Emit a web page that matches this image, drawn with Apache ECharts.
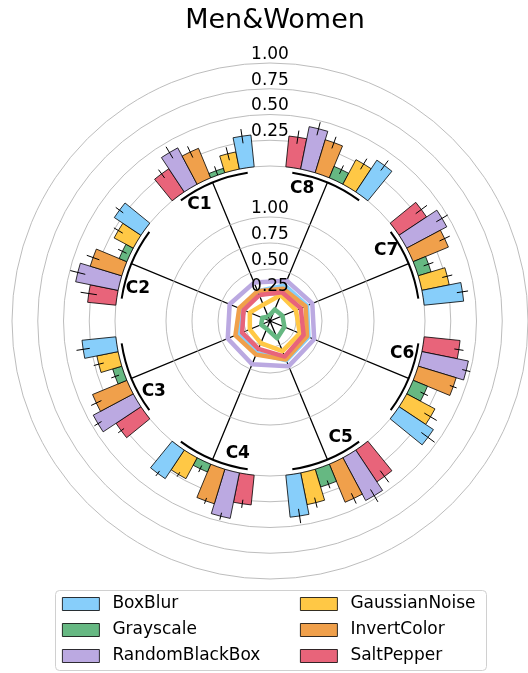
<!DOCTYPE html>
<html>
<head>
<meta charset="utf-8">
<script src="https://cdn.jsdelivr.net/npm/echarts@6/dist/echarts.min.js"></script>
<style>html,body{margin:0;padding:0;background:#fff}#c{width:528px;height:673px}</style>
</head>
<body>
<div id="c"></div>
<script>
const categories = ['C1','C2','C3','C4','C5','C6','C7','C8'];
const seriesNames = ['BoxBlur','GaussianNoise','Grayscale','InvertColor','RandomBlackBox','SaltPepper'];
const colors = ['#87CEFA','#FFC845','#66B882','#F0A04B','#BBA9E1','#E8647A'];
const tickValues = [0.25, 0.5, 0.75, 1.0];

const boxBlur        = [0.31, 0.31, 0.33, 0.333, 0.41, 0.40, 0.385, 0.37];
const gaussianNoise  = [0.17, 0.21, 0.21, 0.23, 0.314, 0.31, 0.27, 0.27];
const grayscale      = [0.045, 0.08, 0.092, 0.082, 0.18, 0.15, 0.13, 0.12];
const invertColor    = [0.31, 0.32, 0.36, 0.35, 0.40, 0.385, 0.37, 0.335];
const randomBlackBox = [0.40, 0.42, 0.44, 0.45, 0.47, 0.46, 0.44, 0.42];
const saltPepper     = [0.27, 0.275, 0.29, 0.29, 0.37, 0.35, 0.32, 0.30];

const boxBlurErr        = [0.07, 0.045, 0.065, 0.03, 0.07, 0.08, 0.055, 0.06];
const gaussianNoiseErr  = [0.065, 0.05, 0.05, 0.025, 0.05, 0.07, 0.05, 0.06];
const grayscaleErr      = [0.045, 0.045, 0.04, 0.035, 0.04, 0.04, 0.05, 0.045];
const invertColorErr    = [0.06, 0.065, 0.055, 0.03, 0.055, 0.035, 0.055, 0.06];
const randomBlackBoxErr = [0.065, 0.075, 0.04, 0.035, 0.07, 0.04, 0.065, 0.065];
const saltPepperErr     = [0.05, 0.08, 0.035, 0.04, 0.07, 0.045, 0.068, 0.065];

const groupArc = [1, 1, 1, 1, 1, 1, 1, 1];

const means = [boxBlur, gaussianNoise, grayscale, invertColor, randomBlackBox, saltPepper];
const errs = [boxBlurErr, gaussianNoiseErr, grayscaleErr, invertColorErr, randomBlackBoxErr, saltPepperErr];

const FONT = 'DejaVu Sans';
const CENTER = [270, 321];
const CAT_GAP = 0.26;
const barAngle = 45 * (1 - CAT_GAP) / seriesNames.length;

const chart = echarts.init(document.getElementById('c'), null, {renderer: 'canvas'});

const hiddenAngle = (start, data) => ({
  type: 'category', data: data, startAngle: start, clockwise: false, show: true,
  axisLine: {show: false}, axisTick: {show: false}, axisLabel: {show: false}, splitLine: {show: false}
});

const fmt = v => (v === 0 ? '' : v.toFixed(2));
const radLabel = {show: true, align: 'center', verticalAlign: 'bottom', margin: 0, fontFamily: FONT, fontSize: 17, color: '#000', formatter: fmt};

// ECharts lays the first bar series at the far (counter-clockwise) end of each band,
// so the bar series are added in reverse to keep BoxBlur on the clockwise side.
const barSeries = seriesNames.map((n, s) => ({
  type: 'bar', name: n, coordinateSystem: 'polar', polarIndex: 0,
  data: means[s], barGap: '0%', barCategoryGap: (CAT_GAP * 100) + '%',
  itemStyle: {color: colors[s], borderColor: '#000', borderWidth: 0.8},
  z: 2
})).reverse();

const errData = [];
seriesNames.forEach((n, s) => {
  categories.forEach((c, i) => errData.push([means[s][i], i, errs[s][i], s]));
});

function rot(p, cx, cy, deg) {
  const t = deg * Math.PI / 180;
  const dx = p[0] - cx, dy = p[1] - cy;
  return [cx + dx * Math.cos(t) + dy * Math.sin(t), cy - dx * Math.sin(t) + dy * Math.cos(t)];
}

const errSeries = {
  type: 'custom', coordinateSystem: 'polar', polarIndex: 0, z: 5, silent: true,
  data: errData,
  renderItem: function (params, api) {
    const m = api.value(0), ci = api.value(1), e = api.value(2), s = api.value(3);
    const cs = params.coordSys;
    const off = (s - (seriesNames.length - 1) / 2) * barAngle;
    const a = rot(api.coord([m - e, ci]), cs.cx, cs.cy, off);
    const b = rot(api.coord([m + e, ci]), cs.cx, cs.cy, off);
    return {type: 'line', shape: {x1: a[0], y1: a[1], x2: b[0], y2: b[1]}, style: {stroke: '#000', lineWidth: 1}};
  }
};

const radarSeries = seriesNames.map((n, s) => ({
  type: 'radar', radarIndex: 0, name: n, symbol: 'none', z: 3,
  data: [{value: means[s], name: n}],
  lineStyle: {color: colors[s], width: 4.5, opacity: 1},
  itemStyle: {color: colors[s]}
}));

// Category names are drawn by a custom series placed through the label polar's scales.
const catLabelSeries = {
  type: 'custom', name: 'catLabels', coordinateSystem: 'polar', polarIndex: 4, z: 10, silent: true,
  data: categories.map((c, i) => [1, i]),
  renderItem: function (params, api) {
    const p = api.coord([api.value(0), api.value(1)]);
    return {type: 'text', x: p[0], y: p[1],
      style: {text: categories[params.dataIndex], fill: '#000', align: 'center', verticalAlign: 'middle',
              font: 'bold 17px "DejaVu Sans"'}};
  }
};

const option = {
  backgroundColor: '#fff',
  animation: false,
  title: {
    text: 'Men&Women', left: 270, textAlign: 'center', top: 2,
    textStyle: {fontFamily: FONT, fontSize: 27, fontWeight: 'normal', color: '#000'}
  },
  polar: [
    {center: CENTER, radius: [155, 258]},
    {center: CENTER, radius: [0, 104]},
    {center: CENTER, radius: [0, 150]},
    {center: CENTER, radius: [149, 151]},
    {center: CENTER, radius: [0, 136]},
    {center: CENTER, radius: [0, 104]}
  ],
  angleAxis: [
    hiddenAngle(90, categories),
    {type: 'value', min: 0, max: 360, startAngle: 90, polarIndex: 1, show: false},
    Object.assign(hiddenAngle(112.5, categories), {polarIndex: 2, splitLine: {show: true, interval: 0, lineStyle: {color: '#000', width: 1.3}}}),
    Object.assign(hiddenAngle(90, categories), {polarIndex: 3, show: false}),
    Object.assign(hiddenAngle(98.8, categories), {polarIndex: 4, show: false}),
    {type: 'value', min: 0, max: 360, startAngle: 90, polarIndex: 5, show: false}
  ],
  radiusAxis: [
    {type: 'value', polarIndex: 0, min: 0, max: 1, interval: 0.25,
     axisLine: {show: false}, axisTick: {show: false}, axisLabel: radLabel,
     splitLine: {show: true, lineStyle: {color: '#bdbdbd', width: 1}}, z: 1},
    {type: 'value', polarIndex: 1, min: 0, max: 1, interval: 0.25,
     axisLine: {show: false}, axisTick: {show: false}, axisLabel: {show: false},
     splitLine: {show: true, lineStyle: {color: '#bdbdbd', width: 1}}, z: 1},
    {type: 'value', polarIndex: 2, min: 0, max: 1, show: false},
    {type: 'value', polarIndex: 3, min: 0, max: 1, show: false},
    {type: 'value', polarIndex: 4, min: 0, max: 1, show: false},
    {type: 'value', polarIndex: 5, min: 0, max: 1, interval: 0.25, z: 20,
     axisLine: {show: false}, axisTick: {show: false}, axisLabel: radLabel, splitLine: {show: false}}
  ],
  radar: {
    center: CENTER, radius: 104, startAngle: 112.5, shape: 'polygon', splitNumber: 4,
    indicator: categories.map(c => ({name: c, min: 0, max: 1})),
    axisName: {show: false}, splitLine: {show: false}, splitArea: {show: false},
    axisLine: {show: false}, axisTick: {show: false}, axisLabel: {show: false}
  },
  legend: [
    {data: ['BoxBlur', 'Grayscale', 'RandomBlackBox'], left: 62, top: 594},
    {data: ['GaussianNoise', 'InvertColor', 'SaltPepper'], left: 300, top: 594}
  ].map(l => Object.assign(l, {
    orient: 'vertical', padding: 0, itemWidth: 37, itemHeight: 13, itemGap: 6, icon: 'rect',
    selectedMode: false, z: 10,
    itemStyle: {borderColor: '#000', borderWidth: 0.8},
    textStyle: {fontFamily: FONT, fontSize: 17, lineHeight: 20, color: '#000', padding: [0, 0, 0, 8]}
  })),
  graphic: [{
    type: 'rect', z: 1, silent: true,
    shape: {x: 55.5, y: 590.5, width: 431, height: 80, r: 4},
    style: {fill: '#fff', stroke: '#d0d0d0', lineWidth: 1}
  }],
  series: [
    ...barSeries,
    errSeries,
    ...radarSeries,
    {type: 'bar', name: 'groupArc', coordinateSystem: 'polar', polarIndex: 3, data: groupArc,
     barCategoryGap: '38%', itemStyle: {color: '#000'}, silent: true},
    catLabelSeries
  ]
};
chart.setOption(option);
</script>
</body>
</html>
